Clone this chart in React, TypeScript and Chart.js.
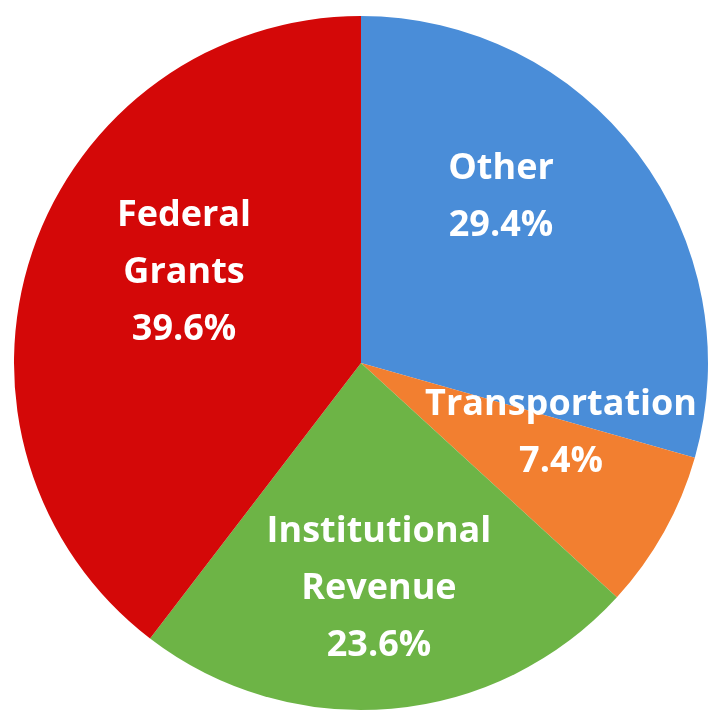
import React, { useEffect, useRef } from "react";
import { Chart, registerables } from "chart.js";

Chart.register(...registerables);

const categories = ["Other", "Transportation", "Institutional Revenue", "Federal Grants"];
const labelLines = [["Other"], ["Transportation"], ["Institutional", "Revenue"], ["Federal", "Grants"]];
const values = [29.4, 7.4, 23.6, 39.6];
const colors = ["#4a8dd8", "#f27f30", "#6db446", "#d40808"];
// label placement: angle offset (deg) from slice mid-angle, radius fraction
const labelAngleOffset = [-12.8, -9.8, 0.5, 8.2];
const labelRadiusFrac = [0.626, 0.611, 0.653, 0.572];

const labelPlugin = {
  id: "sliceLabels",
  afterDatasetsDraw(chart: any) {
    const ctx = chart.ctx;
    const meta = chart.getDatasetMeta(0);
    ctx.save();
    ctx.fillStyle = "#ffffff";
    ctx.font = "bold 36px 'Open Sans'";
    ctx.textAlign = "center";
    ctx.textBaseline = "middle";
    const lineH = 57;
    meta.data.forEach((arc: any, i: number) => {
      const p = arc.getProps(["x", "y", "startAngle", "endAngle", "outerRadius"], true);
      const mid = (p.startAngle + p.endAngle) / 2 + (labelAngleOffset[i] * Math.PI) / 180;
      const r = p.outerRadius * labelRadiusFrac[i];
      const cx = p.x + Math.cos(mid) * r;
      const cy = p.y + Math.sin(mid) * r;
      const lines = [...labelLines[i], values[i].toFixed(1) + "%"];
      const startY = cy - ((lines.length - 1) * lineH) / 2;
      lines.forEach((t, j) => ctx.fillText(t, cx, startY + j * lineH));
    });
    ctx.restore();
  },
};

export default function App() {
  const ref = useRef<HTMLCanvasElement>(null);
  useEffect(() => {
    if (!ref.current) return;
    const chart = new Chart(ref.current, {
      type: "pie",
      data: {
        labels: categories,
        datasets: [
          {
            data: values,
            backgroundColor: colors,
            borderWidth: 0,
          },
        ],
      },
      options: {
        responsive: false,
        animation: false,
        layout: { padding: { left: 14, right: 12, top: 16, bottom: 13 } },
        plugins: {
          legend: { display: false },
          tooltip: { enabled: false },
        },
      },
      plugins: [labelPlugin],
    });
    return () => chart.destroy();
  }, []);
  return (
    <div style={{ position: "fixed", left: 0, top: 0, width: 720, height: 723, background: "#fff" }}>
      <canvas ref={ref} width={720} height={723} style={{ width: 720, height: 723 }} />
    </div>
  );
}
